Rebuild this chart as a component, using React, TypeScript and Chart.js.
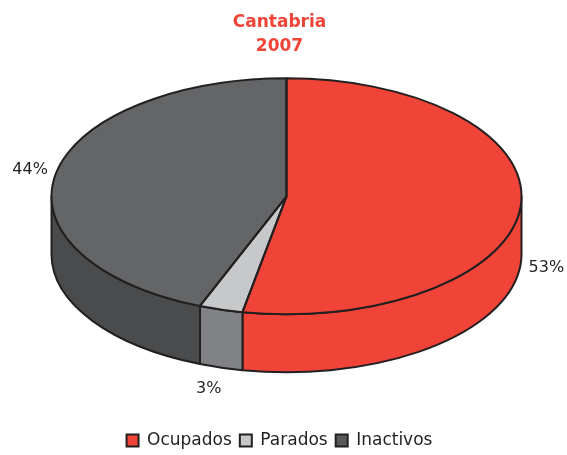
import React, { useEffect, useRef } from 'react';
import { Chart, registerables } from 'chart.js';

Chart.register(...registerables);

const categories = ['Ocupados', 'Parados', 'Inactivos'];
const values = [53, 3, 44];
const titleLines = ['Cantabria', '2007'];

const topColors = ['#ef4437', '#c7c8ca', '#646567'];
const wallColors = ['#ef4437', '#808285', '#4a4b4d'];
const legendColors = ['#ef4437', '#c7c8ca', '#58595b'];
const INK = '#231f20';
const TILT = 0.502;
const DEPTH = 58;
const FONT = '"DejaVu Sans", sans-serif';

const pie3d = {
  id: 'pie3d',
  beforeDatasetsDraw(chart: any) {
    const meta = chart.getDatasetMeta(0);
    const ctx = chart.ctx;
    const arcs = meta.data;
    chart.$pieSaved = false;
    if (!arcs.length) return;
    const { x: cx, y: cy, outerRadius: rx } = arcs[0];
    const ry = rx * TILT;
    ctx.save();
    ctx.lineWidth = 2;
    ctx.strokeStyle = INK;
    ctx.lineJoin = 'round';
    arcs.forEach((arc: any, i: number) => {
      const s = arc.startAngle;
      const e = arc.endAngle;
      const ranges = [[-2 * Math.PI, -Math.PI], [0, Math.PI], [2 * Math.PI, 3 * Math.PI]];
      for (const [lo, hi] of ranges) {
        const a1 = Math.max(s, lo);
        const a2 = Math.min(e, hi);
        if (a2 <= a1) continue;
        ctx.beginPath();
        ctx.ellipse(cx, cy, rx, ry, 0, a1, a2);
        ctx.ellipse(cx, cy + DEPTH, rx, ry, 0, a2, a1, true);
        ctx.closePath();
        ctx.fillStyle = wallColors[i];
        ctx.fill();
        ctx.stroke();
      }
    });
    ctx.restore();
    ctx.save();
    ctx.translate(cx, cy);
    ctx.scale(1, TILT);
    ctx.translate(-cx, -cy);
    chart.$pieSaved = true;
  },
  afterDatasetsDraw(chart: any) {
    const ctx = chart.ctx;
    if (chart.$pieSaved) ctx.restore();
    const meta = chart.getDatasetMeta(0);
    const arcs = meta.data;
    if (!arcs.length) return;
    const { x: cx, y: cy, outerRadius: rx } = arcs[0];
    const ry = rx * TILT;
    ctx.save();
    ctx.lineWidth = 2;
    ctx.strokeStyle = INK;
    ctx.lineJoin = 'round';
    arcs.forEach((arc: any) => {
      ctx.beginPath();
      ctx.moveTo(cx, cy);
      ctx.ellipse(cx, cy, rx, ry, 0, arc.startAngle, arc.endAngle);
      ctx.closePath();
      ctx.stroke();
    });
    const total = values.reduce((a, b) => a + b, 0);
    ctx.fillStyle = INK;
    ctx.font = '16px ' + FONT;
    ctx.textAlign = 'center';
    ctx.textBaseline = 'middle';
    arcs.forEach((arc: any, i: number) => {
      const mid = (arc.startAngle + arc.endAngle) / 2;
      const sn = Math.sin(mid);
      const x = cx + (rx + 26) * Math.cos(mid) - (sn > 0.5 ? 5 : 0);
      const y = cy + (ry + 22) * sn + (sn > 0 ? DEPTH : 0);
      ctx.fillText(Math.round((values[i] / total) * 100) + '%', x, y);
    });
    ctx.restore();
  },
};

export default function App() {
  const ref = useRef<HTMLCanvasElement>(null);
  useEffect(() => {
    if (!ref.current) return;
    const chart = new Chart(ref.current, {
      type: 'pie',
      data: {
        labels: categories,
        datasets: [
          {
            data: values,
            backgroundColor: topColors,
            borderWidth: 0,
            radius: 235,
            clip: false,
          } as any,
        ],
      },
      options: {
        animation: false,
        responsive: true,
        maintainAspectRatio: false,
        events: [],
        layout: { padding: { left: 0, right: 8, top: 0, bottom: -4 } },
        plugins: {
          title: {
            display: true,
            text: titleLines,
            color: '#ef4437',
            font: { family: FONT, size: 17, weight: 'bold', lineHeight: 1.4 },
            padding: { top: 11, bottom: 10 },
          },
          subtitle: {
            display: true,
            text: '',
            position: 'left',
            fullSize: false,
            font: { size: 14, lineHeight: 1 },
            padding: 0,
          } as any,
          legend: {
            display: true,
            position: 'bottom',
            title: {
              display: true,
              text: '',
              font: { size: 10, lineHeight: 1 },
              padding: { top: 90, bottom: 0 },
            },
            labels: {
              boxWidth: 12,
              boxHeight: 12,
              padding: 8,
              color: INK,
              font: { family: FONT, size: 17 },
              generateLabels: () =>
                categories.map((c, i) => ({
                  text: c,
                  fillStyle: legendColors[i],
                  strokeStyle: INK,
                  lineWidth: 2,
                  hidden: false,
                  index: i,
                  datasetIndex: 0,
                  fontColor: INK,
                })),
            },
          },
          tooltip: { enabled: false },
        },
      },
      plugins: [pie3d],
    });
    return () => chart.destroy();
  }, []);
  return (
    <div style={{ position: 'absolute', left: 0, top: 0, width: 567, height: 455 }}>
      <canvas ref={ref} />
    </div>
  );
}
